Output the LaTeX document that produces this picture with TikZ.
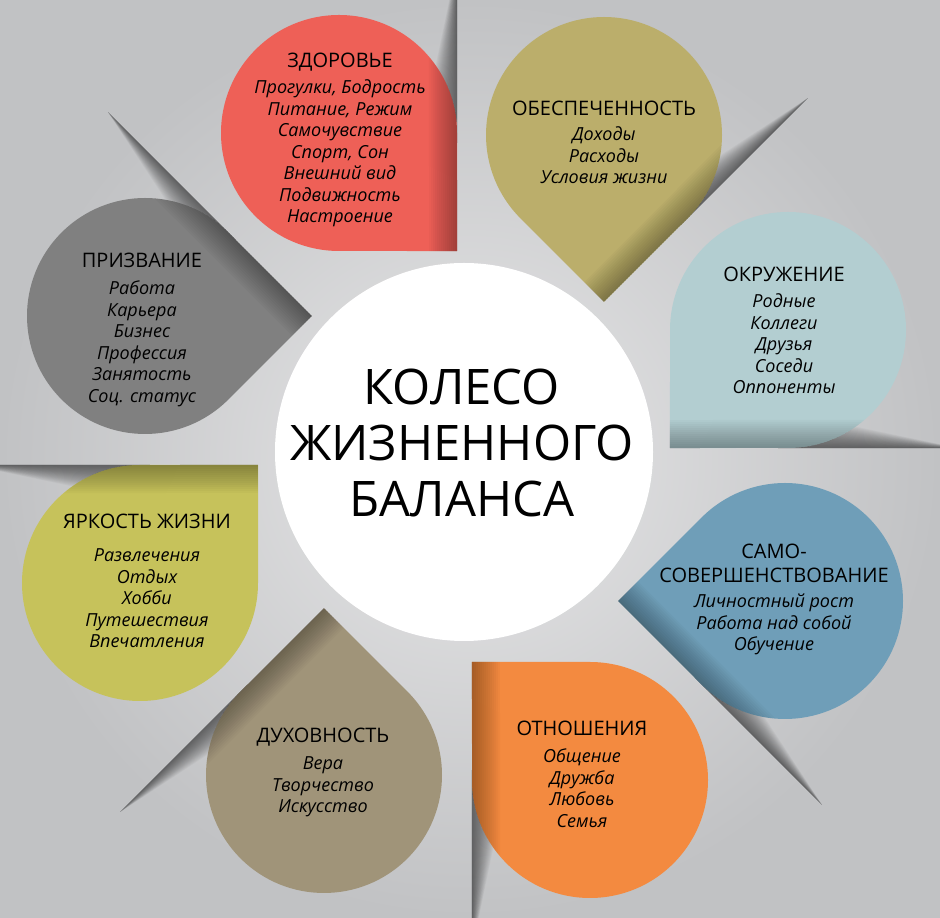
\documentclass[tikz,border=0pt]{standalone}
\usepackage{fontspec}
\setmainfont{Open Sans}

\definecolor{bginner}{HTML}{E7E7E8}
\definecolor{bgouter}{HTML}{C1C2C4}
\definecolor{zdorovecol}{HTML}{EE6057}
\definecolor{obespcol}{HTML}{BBAE6B}
\definecolor{okruzhcol}{HTML}{B3CED1}
\definecolor{samocol}{HTML}{6F9EB8}
\definecolor{otnoshcol}{HTML}{F38A40}
\definecolor{dukhcol}{HTML}{A09479}
\definecolor{yarkostcol}{HTML}{C6C25B}
\definecolor{prizvcol}{HTML}{808080}

\tikzset{
  petaltext/.style={align=center, inner sep=0pt, anchor=north, font=\fontsize{18}{21.5}\selectfont\itshape},
  titletext/.style={align=center, inner sep=0pt, font=\fontsize{49}{56}\selectfont}
}
\newcommand{\petalhead}[1]{{\upshape\fontsize{20}{24}\selectfont #1}}

% #1,#2 centre of the round part, #3 direction of the tip, #4 colour
\newcommand{\petal}[4]{%
  \begin{scope}[shift={(#1,#2)}, rotate=#3]
    % fold shadow
    \foreach \i in {1,...,20}
      \fill[black, opacity=.03] (90.5,76.4) -- (-36.8,203.7) -- ({83.4-1.25*\i},{83.4-1.25*\i}) -- cycle;
    \fill[#4] (166.9,0) -- (45:118) arc[start angle=45, end angle=315, radius=118] -- cycle;
    \begin{scope}
      \clip (166.9,0) -- (45:118) arc[start angle=45, end angle=315, radius=118] -- cycle;
      \foreach \i in {1,...,14}
        \fill[black, opacity=.022] (166.9,0) -- (-1.5,168.3) -- ({-1.5-1.414*\i},{168.3-1.414*\i}) -- ({166.9-1.414*\i},{-1.414*\i}) -- cycle;
    \end{scope}
  \end{scope}}

\begin{document}
\begin{tikzpicture}[x=1pt, y=1pt]
\clip (0,0) rectangle (940,918);
\shade[inner color=bginner, outer color=bgouter] (0,0) rectangle (940,918);

\petal{339}{785}{-45}{zdorovecol}
\petal{604}{783}{-90}{obespcol}
\petal{788}{588}{-135}{okruzhcol}
\petal{785}{317}{180}{samocol}
\petal{590}{138}{135}{otnoshcol}
\petal{324}{143}{90}{dukhcol}
\petal{140}{335}{45}{yarkostcol}
\petal{145}{602}{0}{prizvcol}

\fill[white] (464,466) circle[radius=189];
\node[titletext] (title) at (462,474.5) {КОЛЕСО\\ЖИЗНЕННОГО\\БАЛАНСА};

\node[petaltext] (zdorove) at (340,865) {\petalhead{ЗДОРОВЬЕ}\\[4.5pt] Прогулки, Бодрость\\ Питание, Режим\\ Самочувствие\\ Спорт, Сон\\ Внешний вид\\ Подвижность\\ Настроение};
\node[petaltext] (obesp) at (604,817) {\petalhead{ОБЕСПЕЧЕННОСТЬ}\\[3.5pt] Доходы\\ Расходы\\ Условия жизни};
\node[petaltext] (okruzh) at (784,651) {\petalhead{ОКРУЖЕНИЕ}\\[4.5pt] Родные\\ Коллеги\\ Друзья\\ Соседи\\ Оппоненты};
\node[petaltext] (samo) at (774,374) {\petalhead{САМО-}\\[2.5pt] \petalhead{СОВЕРШЕНСТВОВАНИЕ}\\[3.5pt] Личностный рост\\ Работа над собой\\ Обучение};
\node[petaltext] (otnosh) at (582,197) {\petalhead{ОТНОШЕНИЯ}\\[5.5pt] Общение\\ Дружба\\ Любовь\\ Семья};
\node[petaltext] (dukh) at (323,190) {\petalhead{ДУХОВНОСТЬ}\\[5.5pt] Вера\\ Творчество\\ Искусство};
\node[petaltext] (yarkost) at (147,404) {\petalhead{ЯРКОСТЬ ЖИЗНИ}\\[11.5pt] Развлечения\\ Отдых\\ Хобби\\ Путешествия\\ Впечатления};
\node[petaltext] (prizv) at (142,665) {\petalhead{ПРИЗВАНИЕ}\\[5.5pt] Работа\\ Карьера\\ Бизнес\\ Профессия\\ Занятость\\ Соц. статус};
\end{tikzpicture}
\end{document}
